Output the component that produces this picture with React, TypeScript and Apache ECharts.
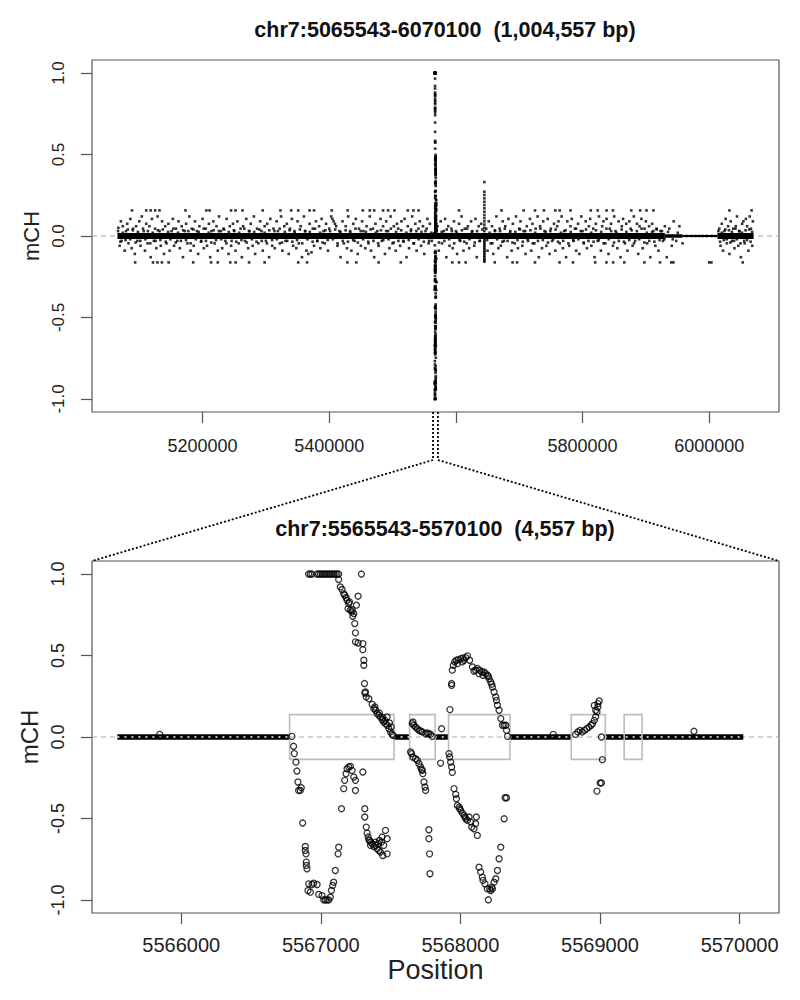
import React, { useEffect, useRef } from "react";
import * as echarts from "echarts";

// ---------- titles / axis texts ----------
const topTitle = "chr7:5065543-6070100  (1,004,557 bp)";
const bottomTitle = "chr7:5565543-5570100  (4,557 bp)";
const yName = "mCH";
const xName = "Position";

// ---------- axis ranges & ticks ----------
const topXRange = [5025361, 6110282];
const bottomXRange = [5565361, 5570282];
const yRange = [-1.08, 1.08];
const topXTicks = [5200000, 5400000, 5600000, 5800000, 6000000];
const topXLabels = [5200000, 5400000, 5800000, 6000000];
const bottomXTicks = [5566000, 5567000, 5568000, 5569000, 5570000];
const yTicks = [-1, -0.5, 0, 0.5, 1];
const zoomRegion = [5565543, 5570100];

// ---------- top panel (1 Mb) data, positions in kb ----------
const topDenseRuns = [[5065.543, 5930], [6013, 6070.1]];
const topMediumRuns = [[5930, 5958]];
const topSparseRuns = [[5958, 6013]];

const topHigh = [5088.5, 5111, 5118, 5125, 5132, 5173, 5206, 5211, 5245, 5252, 5263, 5295, 5323, 5340, 5351, 5369, 5376, 5404, 5429, 5453, 5464, 5471, 5485, 5493, 5503, 5524, 5533, 5541, 5605, 5672, 5707, 5725, 5739, 5757, 5764, 5781, 5813, 5824, 5838, 5848, 5877, 5891, 5901, 5912, 6032, 6067];
const topHighValue = 0.157;
const topLow = [5093.5, 5121.7, 5128.7, 5135.8, 5146.4, 5185.2, 5213.4, 5224, 5243.7, 5252.2, 5273.4, 5298, 5351, 5365, 5428.6, 5442.7, 5478, 5513, 5594.4, 5605, 5615.5, 5661.4, 5689.6, 5696.6, 5724.9, 5763.7, 5784.9, 5820, 5837.8, 5848.4, 5866, 5897.7, 5922.4, 5940, 5943.6, 6000, 6003.5, 6053];
const topLowValue = -0.162;

const topFuzz = [
  [5067,0.05],[5069,-0.06],[5071,0.09],[5072,-0.03],[5074,0.06],[5077,-0.09],[5079,0.03],[5081,0.075],[5083,-0.045],[5086,0.105],[5088,-0.075],[5090,0.045],[5093,-0.11],[5095,0.06],[5097,-0.03],[5100,0.09],[5102,-0.06],[5104,0.12],[5107,0.03],[5109,-0.09],[5111,0.075],[5113,-0.045],
  [5116,0.06],[5118,-0.13],[5120,0.105],[5123,-0.03],[5125,0.045],[5127,-0.075],[5129,0.12],[5132,0.03],[5134,-0.06],[5136,0.09],[5139,-0.11],[5141,0.06],[5143,-0.045],[5146,0.075],[5148,-0.09],[5151,0.03],[5153,0.105],[5155,-0.06],[5158,0.045],[5160,-0.03],[5162,0.09],[5164,-0.075],
  [5167,0.06],[5169,-0.13],[5172,0.03],[5174,0.075],[5176,-0.045],[5179,0.12],[5181,-0.09],[5183,0.045],[5186,-0.06],[5188,0.09],[5191,0.03],[5193,-0.11],[5195,0.06],[5198,-0.03],[5200,0.105],[5202,-0.075],[5205,0.045],[5207,-0.06],[5210,0.075],[5212,-0.13],[5214,0.03],
  [5217,0.09],[5219,-0.045],[5222,0.06],[5224,-0.09],[5226,0.12],[5229,0.03],[5231,-0.075],[5233,0.045],[5236,-0.03],[5238,0.105],[5241,-0.11],[5243,0.06],[5245,-0.06],[5248,0.075],[5250,0.03],[5252,-0.09],[5255,0.09],[5257,-0.045],[5260,0.045],[5262,-0.13],[5264,0.06],
  [5267,-0.03],[5269,0.105],[5272,-0.075],[5274,0.03],[5276,0.075],[5279,-0.06],[5281,0.12],[5283,-0.11],[5286,0.045],[5288,-0.045],[5291,0.09],[5293,0.03],[5295,-0.09],[5298,0.06],[5300,-0.03],[5302,0.075],[5305,-0.13],[5307,0.105],[5310,-0.06],[5312,0.045],[5314,-0.075],
  [5317,0.09],[5319,0.03],[5322,-0.045],[5324,0.12],[5326,-0.09],[5329,0.06],[5331,-0.03],[5333,0.075],[5336,-0.11],[5338,0.045],[5341,0.105],[5343,-0.06],[5345,0.03],[5348,-0.075],[5350,0.09],[5352,-0.045],[5355,0.06],[5357,-0.13],[5360,0.12],[5362,0.03],[5364,-0.09],
  [5367,-0.11],[5369,0.075],[5372,-0.1],[5374,0.045],[5376,-0.06],[5379,0.09],[5381,-0.03],[5384,0.06],[5386,-0.075],[5388,0.105],[5391,0.03],[5393,-0.045],[5395,0.075],[5398,-0.09],[5400,0.045],[5403,0.12],[5405,0.105],[5407,0.09],[5409,0.075],[5411,0.06],[5413,-0.06],
  [5416,0.03],[5418,-0.13],[5421,0.09],[5423,-0.045],[5426,0.06],[5428,-0.075],[5430,0.12],[5433,0.03],[5435,-0.09],[5438,0.075],[5440,-0.03],[5442,0.105],[5445,-0.11],[5447,0.045],[5450,-0.06],[5452,0.09],[5454,0.03],[5457,-0.075],[5459,0.06],[5462,-0.045],[5464,0.12],
  [5466,-0.09],[5469,0.045],[5471,-0.13],[5473,0.075],[5476,0.03],[5478,-0.06],[5481,0.105],[5483,-0.03],[5485,0.06],[5488,-0.11],[5490,0.09],[5493,0.03],[5495,-0.075],[5497,0.12],[5500,-0.045],[5502,0.06],[5505,-0.09],[5507,0.075],[5509,0.045],[5512,-0.06],[5514,0.09],
  [5517,-0.03],[5519,0.105],[5522,-0.13],[5524,0.06],[5526,-0.075],[5529,0.03],[5531,0.12],[5533,-0.045],[5536,0.075],[5538,-0.09],[5541,0.045],[5543,0.09],[5545,-0.06],[5548,0.06],[5550,-0.11],[5552,0.03],[5555,0.105],[5557,-0.045],[5559,0.075],[5562,-0.03],
  [5571,0.06],[5573,-0.09],[5576,0.09],[5578,-0.045],[5581,0.03],[5583,0.105],[5585,-0.13],[5588,0.06],[5590,-0.06],[5593,0.045],[5595,-0.075],[5597,0.09],[5600,0.03],[5602,-0.11],[5605,0.075],[5607,-0.03],[5609,0.12],[5612,-0.09],[5614,0.045],[5617,-0.045],[5619,0.06],
  [5621,-0.075],[5624,0.09],[5626,0.03],[5629,-0.06],[5631,0.105],[5633,-0.13],[5636,0.06],[5638,-0.03],[5640,0.075],[5648,0.045],[5650,-0.09],[5652,0.09],[5655,-0.045],[5657,0.06],[5659,-0.11],[5662,0.03],[5664,0.12],[5667,-0.075],[5669,0.045],
  [5671,-0.06],[5674,0.09],[5676,-0.03],[5678,0.06],[5681,-0.13],[5683,0.105],[5686,0.03],[5688,-0.09],[5690,0.075],[5693,-0.045],[5695,0.12],[5698,-0.075],[5700,0.045],[5702,0.09],[5705,-0.06],[5707,0.03],[5710,-0.11],[5712,0.06],[5714,-0.03],[5717,0.105],[5719,-0.09],
  [5721,0.075],[5724,-0.045],[5726,0.045],[5729,0.12],[5731,-0.13],[5733,0.06],[5736,-0.075],[5738,0.09],[5740,0.03],[5743,-0.06],[5745,0.105],[5748,-0.11],[5750,0.045],[5752,-0.03],[5755,0.075],[5757,-0.09],[5760,0.06],[5762,0.09],[5764,-0.045],[5767,0.12],[5769,-0.075],
  [5771,0.03],[5774,-0.13],[5776,0.09],[5779,-0.06],[5781,0.06],[5783,0.105],[5786,-0.03],[5788,0.045],[5790,-0.09],[5793,0.075],[5795,-0.11],[5798,0.12],[5800,0.03],[5802,-0.045],[5805,0.09],[5807,-0.075],[5810,0.06],[5812,0.105],[5814,-0.06],[5817,0.045],[5819,-0.13],
  [5821,0.075],[5824,-0.03],[5826,0.12],[5829,-0.09],[5831,0.06],[5833,0.09],[5836,-0.045],[5838,0.105],[5841,-0.11],[5843,0.045],[5845,0.075],[5848,-0.06],[5850,0.12],[5852,0.03],[5855,-0.075],[5857,0.09],[5860,-0.13],[5862,0.06],[5864,0.105],[5867,-0.045],[5869,0.075],
  [5871,-0.09],[5874,0.09],[5876,0.045],[5879,-0.06],[5881,0.12],[5883,-0.03],[5886,0.075],[5888,-0.11],[5890,0.06],[5893,0.105],[5895,-0.075],[5898,0.045],[5900,0.09],[5902,-0.045],[5905,0.06],[5907,-0.13],[5910,0.075],[5912,0.03],[5915,-0.06],[5917,0.045],[5920,-0.09],[5923,0.03],
  [5927,-0.03],[5930,0.06],[5933,-0.13],[5937,0.045],[5941,-0.06],[5944,0.09],[5948,-0.03],[5953,0.06],[5958,-0.045],
  [5965,0],[5972,0],[5978,0],[5984,0],[5990,0],[5996,0],[6004,0],[6010,0],
  [6016,0.045],[6018,-0.06],[6020,0.075],[6022,-0.09],[6024,0.03],[6026,0.105],[6028,-0.045],[6030,0.06],[6032,-0.11],[6034,0.09],[6036,-0.03],[6038,0.045],[6040,-0.075],[6042,0.06],[6044,0.12],[6046,-0.06],[6048,0.03],[6050,-0.13],[6052,0.075],[6054,0.09],[6056,-0.045],[6058,0.105],[6060,0.06],[6062,-0.09],[6064,0.12],[6066,0.045],[6068,-0.06],[6069,0.09]
];

const topNearZero = [
  [5066.5,0.03],[5070.2,-0.035],[5074.1,0.02],[5078.3,-0.025],[5082.0,0.04],[5085.7,-0.02],[5089.9,0.035],[5094.2,-0.04],[5097.8,0.025],[5101.6,-0.03],[5105.9,0.045],[5109.7,-0.02],[5113.6,0.03],[5117.4,-0.045],[5121.3,0.02],[5125.8,-0.03],[5129.5,0.035],[5133.4,-0.025],[5137.2,0.04],[5141.8,-0.035],[5145.5,0.025],[5149.3,-0.02],[5153.9,0.045],[5157.6,-0.04],[5161.2,0.02],[5165.7,-0.03],[5169.4,0.035],[5173.8,-0.025],[5177.5,0.03],[5181.1,-0.045],[5185.6,0.04],[5189.3,-0.02],[5193.7,0.025],[5197.4,-0.035],
  [5201.9,0.045],[5205.3,-0.03],[5209.6,0.02],[5213.8,-0.04],[5217.5,0.035],[5221.2,-0.025],[5225.7,0.03],[5229.4,-0.02],[5233.9,0.04],[5237.6,-0.045],[5241.3,0.025],[5245.8,-0.03],[5249.5,0.035],[5253.2,-0.035],[5257.7,0.02],[5261.4,-0.025],[5265.9,0.045],[5269.6,-0.04],[5273.3,0.03],[5277.8,-0.02],[5281.5,0.025],[5285.2,-0.035],[5289.7,0.04],[5293.4,-0.03],[5297.9,0.02],
  [5301.6,-0.045],[5305.3,0.035],[5309.8,-0.025],[5313.5,0.03],[5317.2,-0.02],[5321.7,0.045],[5325.4,-0.04],[5329.9,0.025],[5333.6,-0.03],[5337.3,0.035],[5341.8,-0.035],[5345.5,0.02],[5349.2,-0.025],[5353.7,0.04],[5357.4,-0.045],[5361.9,0.03],[5365.6,-0.02],[5369.3,0.025],[5373.8,-0.035],[5377.5,0.045],[5381.2,-0.03],[5385.7,0.02],[5389.4,-0.04],[5393.9,0.035],[5397.6,-0.025],
  [5401.3,0.03],[5405.8,-0.02],[5409.5,0.04],[5413.2,-0.045],[5417.7,0.025],[5421.4,-0.03],[5425.9,0.035],[5429.6,-0.035],[5433.3,0.02],[5437.8,-0.025],[5441.5,0.045],[5445.2,-0.04],[5449.7,0.03],[5453.4,-0.02],[5457.9,0.025],[5461.6,-0.035],[5465.3,0.04],[5469.8,-0.03],[5473.5,0.02],[5477.2,-0.045],[5481.7,0.035],[5485.4,-0.025],[5489.9,0.03],[5493.6,-0.02],[5497.3,0.045],
  [5501.8,-0.04],[5505.5,0.025],[5509.2,-0.03],[5513.7,0.035],[5517.4,-0.035],[5521.9,0.02],[5525.6,-0.025],[5529.3,0.04],[5533.8,-0.045],[5537.5,0.03],[5541.2,-0.02],[5545.7,0.025],[5549.4,-0.035],[5553.9,0.045],[5557.6,-0.03],[5561.3,0.02],[5569.4,0.035],[5573.2,-0.04],[5577.6,0.025],[5581.8,-0.03],[5585.5,0.04],[5589.3,-0.02],[5593.7,0.03],[5597.4,-0.045],
  [5601.2,0.02],[5605.8,-0.025],[5609.5,0.035],[5613.3,-0.035],[5617.7,0.045],[5621.4,-0.02],[5625.2,0.025],[5629.8,-0.04],[5633.5,0.03],[5637.3,-0.03],[5641.7,0.04],[5649.4,-0.025],[5653.2,0.02],[5657.7,-0.045],[5661.5,0.035],[5665.3,-0.02],[5669.8,0.03],[5673.4,-0.035],[5677.2,0.045],[5681.7,-0.03],[5685.5,0.02],[5689.3,-0.04],[5693.8,0.025],[5697.4,-0.025],
  [5701.2,0.04],[5705.7,-0.035],[5709.5,0.03],[5713.3,-0.02],[5717.8,0.035],[5721.4,-0.045],[5725.2,0.02],[5729.7,-0.03],[5733.5,0.045],[5737.3,-0.025],[5741.8,0.025],[5745.4,-0.04],[5749.2,0.03],[5753.7,-0.02],[5757.5,0.04],[5761.3,-0.035],[5765.8,0.02],[5769.4,-0.03],[5773.2,0.035],[5777.7,-0.045],[5781.5,0.025],[5785.3,-0.025],[5789.8,0.045],[5793.4,-0.02],[5797.2,0.03],
  [5801.7,-0.04],[5805.5,0.04],[5809.3,-0.03],[5813.8,0.02],[5817.4,-0.035],[5821.2,0.035],[5825.7,-0.025],[5829.5,0.025],[5833.3,-0.045],[5837.8,0.045],[5841.4,-0.02],[5845.2,0.03],[5849.7,-0.04],[5853.5,0.02],[5857.3,-0.03],[5861.8,0.04],[5865.4,-0.035],[5869.2,0.025],[5873.7,-0.025],[5877.5,0.035],[5881.3,-0.045],[5885.8,0.03],[5889.4,-0.02],[5893.2,0.045],[5897.7,-0.04],
  [5901.5,0.02],[5905.3,-0.03],[5909.8,0.025],[5913.4,-0.035],[5917.2,0.04],[5921.7,-0.025],[5925.5,0.03],[5929.3,-0.02],[5935.0,0.025],[5942.5,-0.02],[5950.5,0.02],
  [6014.5,0.03],[6017.2,-0.035],[6019.8,0.02],[6023.1,-0.025],[6025.5,0.04],[6027.8,-0.02],[6031.2,0.035],[6033.6,-0.04],[6035.9,0.025],[6039.3,-0.03],[6041.5,0.045],[6043.8,-0.02],[6047.2,0.03],[6049.5,-0.045],[6051.8,0.02],[6055.2,-0.03],[6057.5,0.035],[6059.8,-0.025],[6063.2,0.04],[6065.5,-0.035],[6067.8,0.025]
];

const spike2Position = 5645;
const spike2Values = [0.331, 0.272, 0.252, 0.231, 0.21, 0.19, 0.17, 0.149, 0.129, 0.11, 0.09, 0.07, 0.05, 0.03, -0.01, -0.02, -0.03, -0.04, -0.05, -0.06, -0.07, -0.08, -0.09, -0.1, -0.11, -0.12, -0.13, -0.14, -0.15, -0.158];

// ---------- bottom panel (4.5 kb) data, positions in bp ----------
const zeroRuns = [[5565543, 5566776], [5567521, 5567633], [5567816, 5567912], [5568351, 5568793], [5569033, 5570026]];
const boxes = [[5566776, 5567524], [5567636, 5567819], [5567915, 5568355], [5568794, 5569038], [5569173, 5569301]];
const boxHalfHeight = 0.137;

const plateau = [5566913, 5566925, 5566937, 5566973, 5566985, 5566997, 5567009, 5567021, 5567033, 5567045, 5567057, 5567068, 5567080, 5567092, 5567104, 5567116, 5567128, 5567291];
const plateauValue = 1.0;

const c1Upper = [
  [5567128,0.966],[5567140,0.921],[5567152,0.905],[5567164,0.88],[5567171,0.87],[5567181,0.856],[5567188,0.839],[5567200,0.819],[5567195,0.788],[5567205,0.829],[5567212,0.778],[5567224,0.768],[5567224,0.782],[5567229,0.741],[5567236,0.757],[5567243,0.696],[5567248,0.639],[5567248,0.584],[5567267,0.864],[5567255,0.809],[5567267,0.577],
  [5567301,0.573],[5567301,0.536],[5567308,0.471],[5567308,0.44],[5567313,0.328],[5567315,0.27],[5567320,0.276],[5567325,0.246],[5567344,0.235],[5567368,0.2],[5567380,0.174],[5567387,0.184],[5567392,0.164],[5567404,0.143],[5567416,0.133],[5567420,0.147],[5567427,0.123],[5567439,0.106],[5567444,0.119],[5567451,0.092],[5567459,0.102],[5567463,0.082],[5567475,0.072],[5567475,0.123],[5567487,0.051],[5567492,0.086],[5567499,0.031],[5567504,0.061],[5567511,0.016],[5567518,0.01]
];
const c1Lower = [
  [5566793,0.004],[5566805,-0.057],[5566810,-0.102],[5566822,-0.154],[5566829,-0.209],[5566836,-0.276],[5566841,-0.328],[5566853,-0.328],[5566860,-0.311],[5566870,-0.528],[5566889,-0.672],[5566889,-0.696],[5566894,-0.717],[5566896,-0.768],[5566896,-0.788],[5566901,-0.809],[5566913,-0.901],[5566925,-0.952],[5566908,-0.942],[5566937,-0.905],[5566949,-0.897],[5566973,-0.905],[5566985,-0.966],[5567009,-0.973],[5567021,-0.999],[5567033,-1.0],[5567045,-1.0],[5567057,-1.0],[5567068,-0.983],[5567076,-0.942],[5567085,-0.911],[5567092,-0.891],[5567104,-0.819],[5567124,-0.717],[5567128,-0.676],
  [5567148,-0.44],[5567164,-0.317],[5567171,-0.266],[5567181,-0.225],[5567188,-0.195],[5567200,-0.184],[5567212,-0.18],[5567224,-0.205],[5567236,-0.246],[5567248,-0.328],[5567248,-0.266],[5567301,-0.215],
  [5567315,-0.44],[5567315,-0.491],[5567325,-0.553],[5567332,-0.59],[5567339,-0.614],[5567344,-0.631],[5567349,-0.635],[5567356,-0.665],[5567358,-0.645],[5567368,-0.655],[5567380,-0.672],[5567392,-0.665],[5567392,-0.645],[5567404,-0.686],[5567411,-0.655],[5567416,-0.696],[5567420,-0.635],[5567427,-0.706],[5567435,-0.645],[5567439,-0.614],[5567444,-0.727],[5567451,-0.665],[5567463,-0.573],[5567475,-0.717],[5567475,-0.624]
];
const c2Upper = [[5567655,0.082],[5567660,0.092],[5567667,0.072],[5567679,0.061],[5567691,0.051],[5567703,0.041],[5567715,0.037],[5567727,0.031],[5567751,0.02],[5567762,0.025],[5567774,0.02],[5567786,0.016],[5567798,0.004]];
const c2Lower = [[5567643,-0.092],[5567650,-0.102],[5567660,-0.123],[5567679,-0.133],[5567691,-0.143],[5567703,-0.164],[5567715,-0.184],[5567722,-0.2],[5567727,-0.205],[5567731,-0.225],[5567739,-0.276],[5567746,-0.307],[5567751,-0.328],[5567774,-0.569],[5567774,-0.624],[5567779,-0.717],[5567782,-0.839]];
const c3Upper = [
  [5567925,0.168],[5567937,0.328],[5567937,0.317],[5567942,0.41],[5567949,0.44],[5567959,0.461],[5567971,0.471],[5567978,0.45],[5567985,0.475],[5568002,0.481],[5568014,0.461],[5568018,0.485],[5568026,0.471],[5568038,0.487],[5568050,0.498],[5568066,0.471],[5568086,0.43],[5568097,0.405],[5568109,0.41],[5568121,0.42],[5568133,0.389],[5568138,0.41],[5568153,0.399],[5568162,0.379],[5568169,0.399],[5568181,0.389],[5568193,0.379],[5568200,0.373],[5568205,0.358],[5568217,0.338],[5568224,0.324],[5568229,0.307],[5568241,0.276],[5568253,0.246],[5568258,0.225],[5568265,0.195],[5568277,0.164],[5568289,0.113],[5568301,0.072],[5568313,0.072],[5568325,0.072],[5568330,0.041],[5568337,0.004]
];
const c3Lower = [
  [5567918,-0.102],[5567923,-0.123],[5567930,-0.154],[5567937,-0.184],[5567942,-0.217],[5567954,-0.317],[5567966,-0.352],[5567971,-0.379],[5567978,-0.42],[5567990,-0.43],[5567995,-0.44],[5568002,-0.45],[5568014,-0.467],[5568026,-0.481],[5568033,-0.491],[5568038,-0.502],[5568050,-0.512],[5568062,-0.491],[5568074,-0.522],[5568081,-0.553],[5568097,-0.563],[5568109,-0.532],[5568114,-0.491],[5568121,-0.604],
  [5568133,-0.799],[5568145,-0.829],[5568157,-0.86],[5568162,-0.88],[5568176,-0.901],[5568193,-0.932],[5568200,-0.999],[5568210,-0.932],[5568217,-0.942],[5568224,-0.921],[5568229,-0.932],[5568241,-0.891],[5568253,-0.87],[5568265,-0.819],[5568277,-0.747],[5568289,-0.676],[5568313,-0.502],[5568320,-0.373],[5568330,-0.373]
];
const c4 = [[5568825,0.016],[5568841,0.031],[5568857,0.041],[5568873,0.031],[5568889,0.041],[5568905,0.051],[5568921,0.061],[5568937,0.072],[5568946,0.082],[5568959,0.102],[5568969,0.123],[5568978,0.154],[5568985,0.184],[5568959,0.194],[5568969,0.164],[5568985,0.205],[5568994,0.221],[5569010,0],[5569017,-0.139],[5569001,-0.282],[5569010,-0.282],[5568978,-0.332]];
const lonePoints = [[5565846,0.016],[5567865,0.051],[5567858,-0.16],[5568665,0.016],[5569673,0.035]];

const FONT = "'Liberation Sans', Arial, Helvetica, sans-serif";

export default function App() {
  const ref = useRef<HTMLDivElement>(null);

  useEffect(() => {
    const chart = echarts.init(ref.current!, null, { renderer: "svg", width: 800, height: 1000 });

    const bottomPoints = [
      ...plateau.map((p) => [p, plateauValue]),
      ...c1Upper, ...c1Lower, ...c2Upper, ...c2Lower, ...c3Upper, ...c3Lower, ...c4, ...lonePoints,
    ];
    const topPoints = [
      ...topFuzz.map(([k, v]) => [k * 1000, v]),
      ...topNearZero.map(([k, v]) => [k * 1000, v]),
      ...topHigh.map((k) => [k * 1000, topHighValue]),
      ...topLow.map((k) => [k * 1000, topLowValue]),
      ...spike2Values.map((v) => [spike2Position * 1000, v]),
      ...bottomPoints,
    ];

    const runSeries = (axis: number, runs: number[][], width: number, inner: boolean, z: number) => ({
      type: "custom",
      xAxisIndex: axis,
      yAxisIndex: axis,
      z,
      silent: true,
      clip: true,
      data: runs,
      encode: { x: [0, 1] },
      renderItem: (params: any, api: any) => {
        const a = api.coord([api.value(0), 0]);
        const b = api.coord([api.value(1), 0]);
        const children: any[] = [
          { type: "line", shape: { x1: a[0], y1: a[1], x2: b[0], y2: b[1] }, style: { stroke: "#000", lineWidth: width } },
        ];
        if (inner) {
          children.push({
            type: "line",
            shape: { x1: a[0], y1: a[1], x2: b[0], y2: b[1] },
            style: { stroke: "#fff", lineWidth: 1.3, lineDash: [2, 5] },
          });
        }
        return { type: "group", children };
      },
    });

    const zeroLine = (axis: number, range: number[]) => ({
      type: "line",
      xAxisIndex: axis,
      yAxisIndex: axis,
      z: 1,
      silent: true,
      symbol: "none",
      data: [[range[0], 0], [range[1], 0]],
      lineStyle: { color: "#a8a8a8", width: 1, type: [5, 4] },
    });

    const xAxisCommon = {
      type: "value",
      axisLine: { show: false, onZero: false },
      splitLine: { show: false },
      axisTick: { show: true, inside: false, length: 11, lineStyle: { color: "#555", width: 1.2 } },
    };
    const yAxisCommon = {
      type: "value",
      min: yRange[0],
      max: yRange[1],
      axisLine: { show: false, onZero: false },
      splitLine: { show: false },
      axisTick: { show: true, inside: false, length: 11, customValues: yTicks, lineStyle: { color: "#555", width: 1.2 } },
      nameLocation: "middle",
      nameRotate: 90,
    };

    chart.setOption({
      animation: false,
      backgroundColor: "#fff",
      textStyle: { fontFamily: FONT },
      title: [
        { text: topTitle, left: 440, textAlign: "center", top: 14, textStyle: { fontFamily: FONT, fontSize: 21.5, fontWeight: "bold", color: "#111" } },
        { text: bottomTitle, left: 440, textAlign: "center", top: 513, textStyle: { fontFamily: FONT, fontSize: 21.5, fontWeight: "bold", color: "#111" } },
      ],
      grid: [
        { left: 92, top: 60, width: 687, height: 352, show: true, borderColor: "#555", borderWidth: 1.2, backgroundColor: "transparent" },
        { left: 92, top: 561, width: 687, height: 352, show: true, borderColor: "#555", borderWidth: 1.2, backgroundColor: "transparent" },
      ],
      xAxis: [
        {
          ...xAxisCommon,
          gridIndex: 0,
          min: topXRange[0],
          max: topXRange[1],
          axisTick: { ...xAxisCommon.axisTick, customValues: topXTicks },
          axisLabel: { customValues: topXLabels, fontSize: 18, color: "#222", margin: 25, fontFamily: FONT, formatter: (v: number) => String(v) },
        },
        {
          ...xAxisCommon,
          gridIndex: 1,
          min: bottomXRange[0],
          max: bottomXRange[1],
          axisTick: { ...xAxisCommon.axisTick, customValues: bottomXTicks },
          axisLabel: { customValues: bottomXTicks, fontSize: 20, color: "#222", margin: 22, fontFamily: FONT, formatter: (v: number) => String(v) },
          name: xName,
          nameLocation: "middle",
          nameGap: 43,
          nameTextStyle: { fontSize: 27, color: "#222", fontFamily: FONT },
        },
      ],
      yAxis: [
        {
          ...yAxisCommon,
          gridIndex: 0,
          axisLabel: { customValues: yTicks, rotate: 90, fontSize: 17, color: "#222", margin: 25, fontFamily: FONT, formatter: (v: number) => v.toFixed(1) },
          name: yName,
          nameGap: 50,
          nameTextStyle: { fontSize: 22, color: "#222", fontFamily: FONT },
        },
        {
          ...yAxisCommon,
          gridIndex: 1,
          axisLabel: { customValues: yTicks, rotate: 90, fontSize: 18, color: "#222", margin: 25, fontFamily: FONT, formatter: (v: number) => v.toFixed(1) },
          name: yName,
          nameGap: 51,
          nameTextStyle: { fontSize: 24, color: "#222", fontFamily: FONT },
        },
      ],
      series: [
        zeroLine(0, topXRange),
        runSeries(0, topDenseRuns.map(([a, b]) => [a * 1000, b * 1000]), 6, false, 2),
        runSeries(0, topMediumRuns.map(([a, b]) => [a * 1000, b * 1000]), 3.5, false, 2),
        runSeries(0, topSparseRuns.map(([a, b]) => [a * 1000, b * 1000]), 2.2, false, 2),
        {
          type: "scatter",
          xAxisIndex: 0,
          yAxisIndex: 0,
          z: 3,
          silent: true,
          symbol: "rect",
          symbolSize: 2.6,
          itemStyle: { color: "#000" },
          data: topPoints,
        },
        zeroLine(1, bottomXRange),
        runSeries(1, zeroRuns, 5.5, true, 2),
        {
          type: "custom",
          xAxisIndex: 1,
          yAxisIndex: 1,
          z: 3,
          silent: true,
          data: boxes.map(([a, b]) => [a, b, -boxHalfHeight, boxHalfHeight]),
          encode: { x: [0, 1], y: [2, 3] },
          renderItem: (params: any, api: any) => {
            const p0 = api.coord([api.value(0), api.value(3)]);
            const p1 = api.coord([api.value(1), api.value(2)]);
            return {
              type: "rect",
              shape: { x: p0[0], y: p0[1], width: p1[0] - p0[0], height: p1[1] - p0[1] },
              style: { fill: "none", stroke: "#bdbdbd", lineWidth: 1.6 },
            };
          },
        },
        {
          type: "scatter",
          xAxisIndex: 1,
          yAxisIndex: 1,
          z: 4,
          silent: true,
          symbol: "circle",
          symbolSize: 6,
          itemStyle: { color: "rgba(0,0,0,0)", borderColor: "#000", borderWidth: 1.3 },
          data: bottomPoints,
        },
      ],
    });

    // dotted zoom connectors, positioned with the axes' own scales
    const xa = chart.convertToPixel({ xAxisIndex: 0 }, zoomRegion[0]) as number;
    const xb = chart.convertToPixel({ xAxisIndex: 0 }, zoomRegion[1]) as number;
    const yTopBottom = chart.convertToPixel({ yAxisIndex: 0 }, yRange[0]) as number;
    const yBotTop = chart.convertToPixel({ yAxisIndex: 1 }, yRange[1]) as number;
    const bl = chart.convertToPixel({ xAxisIndex: 1 }, bottomXRange[0]) as number;
    const br = chart.convertToPixel({ xAxisIndex: 1 }, bottomXRange[1]) as number;
    const yKnee = yTopBottom + 48;
    const dot = { stroke: "#000", lineWidth: 1.8, lineDash: [2, 2] };
    chart.setOption({
      graphic: [
        { type: "line", silent: true, shape: { x1: xa - 1, y1: yTopBottom, x2: xa - 1, y2: yKnee }, style: dot },
        { type: "line", silent: true, shape: { x1: xb + 1, y1: yTopBottom, x2: xb + 1, y2: yKnee }, style: dot },
        { type: "line", silent: true, shape: { x1: xa - 1, y1: yKnee, x2: bl, y2: yBotTop }, style: dot },
        { type: "line", silent: true, shape: { x1: xb + 1, y1: yKnee, x2: br, y2: yBotTop }, style: dot },
      ],
    });

    return () => chart.dispose();
  }, []);

  return <div ref={ref} style={{ position: "absolute", left: 0, top: 0, width: 800, height: 1000, background: "#fff" }} />;
}
